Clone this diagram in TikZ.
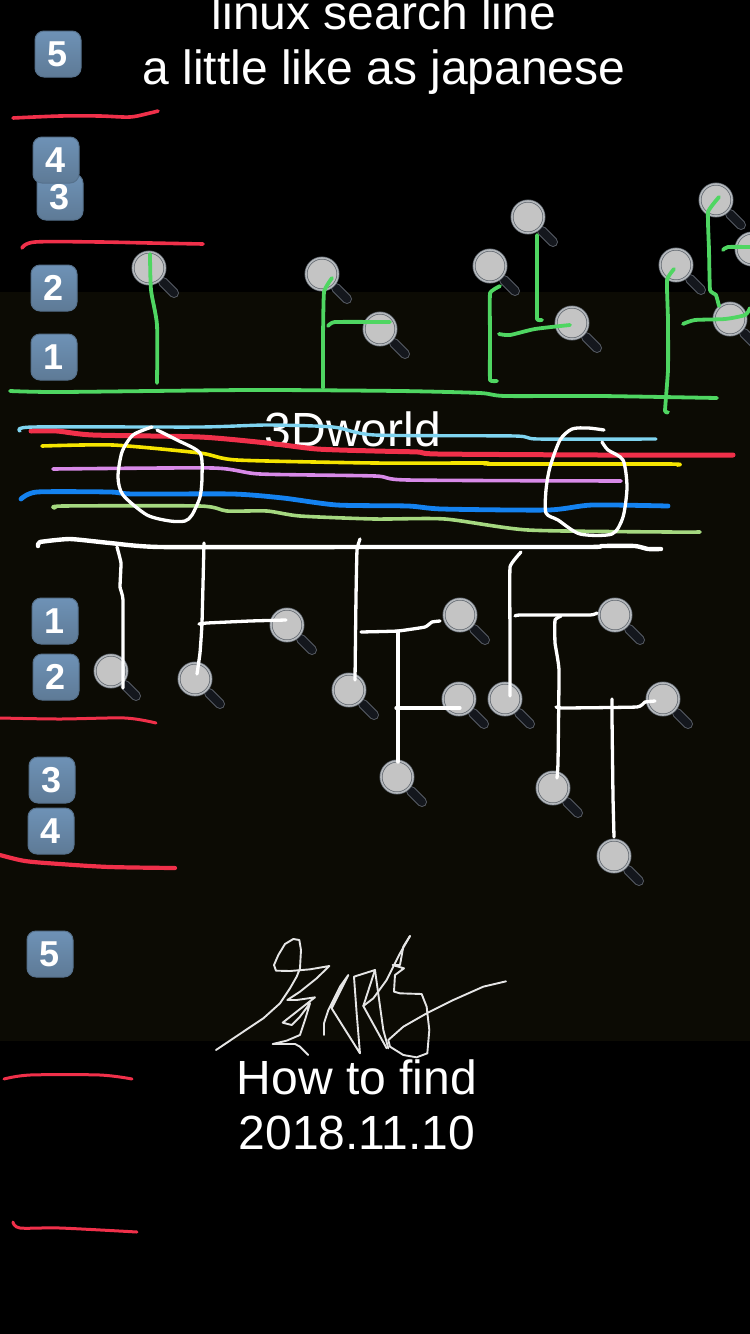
\documentclass[tikz,border=0pt]{standalone}
\usepackage{fontspec}
\setmainfont{Liberation Sans}
\definecolor{band}{HTML}{0C0B04}
\definecolor{redline}{HTML}{F0304A}
\definecolor{grnline}{HTML}{4FD662}
\definecolor{skyline}{HTML}{7FD4F0}
\definecolor{yelline}{HTML}{F5E400}
\definecolor{purline}{HTML}{D88AE8}
\definecolor{bluline}{HTML}{1482F0}
\definecolor{limline}{HTML}{A5D880}
\definecolor{capTop}{HTML}{6E92B6}
\definecolor{capBot}{HTML}{5E7A96}
\definecolor{capEdge}{HTML}{56718C}
\definecolor{lensFill}{HTML}{C4C4C4}
\definecolor{lensRing}{HTML}{5E646C}
\definecolor{lensBevel}{HTML}{B4B8BC}
\definecolor{handleCol}{HTML}{14171D}
\definecolor{handleEdge}{HTML}{565B64}
\tikzset{
  stroke/.style={line cap=round,line join=round},
  redstroke/.style={stroke,draw=redline,line width=3.6},
  grn/.style={stroke,draw=grnline,line width=3.8},
  wht/.style={stroke,draw=white,line width=3.3},
  keycap/.style={rounded corners=9pt,minimum width=46pt,minimum height=46pt,inner sep=0pt,
    top color=capTop,bottom color=capBot,draw=capEdge,line width=1pt,text=white,
    font=\fontsize{36}{36}\selectfont\bfseries},
  lens/.style={circle,minimum size=32pt,inner sep=0pt,fill=lensFill,draw=lensRing,double=lensBevel,double distance=1.6pt,line width=.7pt},
  label/.style={text=white,align=center,inner sep=0pt,font=\fontsize{48}{55}\selectfont},
  sign/.style={stroke,draw=white!90!black,line width=1.9}
}
\begin{document}
\begin{tikzpicture}[x=1pt,y=-1pt]
\useasboundingbox (0,0) rectangle (750,1334);
\clip (0,0) rectangle (750,1334);
\fill[black] (0,0) rectangle (750,1334);
\fill[band] (0,292) rectangle (750,1041);

% texts
\node[label] (title) at (384,45) {linux search line\\a little like as japanese};
\node[label] (world) at (353,429) {3Dworld};
\node[label] (how) at (357,1105) {How to find\\2018.11.10};

% keycaps
\node[keycap] (u5) at (58,54) {5};
\node[keycap] (u3) at (60,197) {3};
\node[keycap] (u4) at (56,160) {4};
\node[keycap] (u2) at (54,288) {2};
\node[keycap] (u1) at (54,357) {1};
\node[keycap] (d1) at (55,621) {1};
\node[keycap] (d2) at (56,677) {2};
\node[keycap] (d3) at (52,780) {3};
\node[keycap] (d4) at (51,831) {4};
\node[keycap] (d5) at (50,954) {5};

% magnifiers
\foreach \n/\x/\y in {ta/149/268,tb/322/274,tc/380/329,td/528/217,te/490/266,tf/572/323,tg/676/265,th/716/200,ti/752/249,tj/730/319,
  ba/111/671,bb/195/679,bc/287/625,bd/349/690,be/460/615,bf/459/699,bg/397/777,bh/505/699,bi/615/615,bj/663/699,bk/553/788,bl/614/856}{
  \draw[line cap=round,line width=10pt,draw=handleEdge] (\x+14,\y+14) -- (\x+25,\y+25);
  \draw[line cap=round,line width=8pt,draw=handleCol] (\x+14,\y+14) -- (\x+25,\y+25);
  \node[lens] (\n) at (\x,\y) {};
}

% red separators
\draw[redstroke] plot[smooth,tension=.5] coordinates {(13,118) (60,116) (100,116) (130,117) (150,113) (158,111)};
\draw[redstroke] plot[smooth,tension=.5] coordinates {(22,248) (35,242) (100,242) (150,243) (203,244)};
\draw[redstroke,line width=3] plot[smooth,tension=.5] coordinates {(0,718) (60,719) (125,718) (156,723)};
\draw[redstroke,line width=4.2] plot[smooth,tension=.5] coordinates {(0,855) (25,861) (60,864) (110,867) (175,868)};
\draw[redstroke,line width=3] plot[smooth,tension=.5] coordinates {(4,1079) (30,1075) (100,1075) (132,1079)};
\draw[redstroke,line width=3] plot[smooth,tension=.5] coordinates {(13,1222) (20,1228) (60,1228) (137,1232)};

% free ends of the green connectors
\coordinate (g1) at (157,383);
\coordinate (g2) at (323,388);
\coordinate (g3) at (328,326);
\coordinate (g4) at (497,381);
\coordinate (g5) at (542,320);
\coordinate (g6) at (499,334);
\coordinate (g7) at (668,412);
\coordinate (g8) at (683,324);
\coordinate (g9) at (723,250);
\coordinate (g10) at (750,308);

% green tree
\draw[grn] plot[smooth,tension=.4] coordinates {(10,391) (60,392) (250,390) (400,391) (480,393) (505,396) (600,396) (717,398)};
\draw[grn] plot[smooth,tension=.4] coordinates {([shift={(1,-14)}]ta.center) (151,290) (157,325) (g1)};
\draw[grn] plot[smooth,tension=.25] coordinates {([shift={(10,4)}]tb.center) (324,292) (323,340) (g2)};
\draw[grn] plot[smooth,tension=.25] coordinates {(g3) (335,322) ([shift={(10,-7)}]tc.center)};
\draw[grn] plot[smooth,tension=.15] coordinates {([shift={(10,20)}]te.center) (490,293) (490,340) (490,380) (g4)};
\draw[grn] plot[smooth,tension=.15] coordinates {([shift={(9,18)}]td.center) (537,280) (537,319) (g5)};
\draw[grn] plot[smooth,tension=.4] coordinates {(g6) (510,335) (535,329) ([shift={(-2,2)}]tf.center)};
\draw[grn] plot[smooth,tension=.25] coordinates {([shift={(-2,4)}]tg.center) (667,280) (668,320) (668,370) (665,411) (g7)};
\draw[grn] plot[smooth,tension=.2] coordinates {([shift={(3,-3)}]th.center) (708,212) (709,250) (710,290) (716,295) (719,306)};
\draw[grn] plot[smooth,tension=.4] coordinates {(g8) (695,320) (725,319) (745,315) (g10)};
\draw[grn] plot[smooth,tension=.4] coordinates {(g9) (728,247) ([shift={(-2,-2)}]ti.center)};

% coloured lines
\draw[stroke,draw=redline,line width=5] plot[smooth,tension=.4] coordinates {(31,431) (57,431) (93,435) (200,437) (267,443) (317,449) (375,451) (418,452) (438,454) (600,455) (733,455)};
\draw[stroke,draw=skyline,line width=3.4] plot[smooth,tension=.4] coordinates {(20,431) (33,427) (200,427) (267,425) (333,427) (375,435) (515,436) (538,439) (656,439)};
\draw[stroke,draw=yelline,line width=3.6] plot[smooth,tension=.4] coordinates {(42,446) (113,445) (200,453) (237,460) (375,463) (485,463) (492,464) (668,464) (677,465)};
\draw[stroke,draw=purline,line width=3.6] plot[smooth,tension=.4] coordinates {(53,469) (213,468) (260,474) (375,476) (408,480) (621,481)};
\draw[stroke,draw=bluline,line width=4.8] plot[smooth,tension=.4] coordinates {(21,499) (37,492) (110,492) (133,494) (233,494) (283,498) (337,505) (408,506) (442,509) (548,510) (592,505) (668,506)};
\draw[stroke,draw=limline,line width=3.6] plot[smooth,tension=.4] coordinates {(55,508) (63,506) (200,506) (227,511) (267,511) (300,516) (375,519) (445,519) (528,530) (668,532) (700,532)};

% white rings
\draw[wht] plot[smooth,tension=.45] coordinates {(157,430) (177,440) (200,453) (202,477) (200,497) (192,515) (185,521) (170,521) (147,515) (123,495) (118,477) (122,452) (133,435) (152,427)};
\draw[wht] plot[smooth,tension=.45] coordinates {(604,430) (588,428) (572,429) (560,440) (550,467) (546,490) (546,513) (558,520) (580,534) (612,534) (623,517) (627,487) (623,460) (608,450) (602,442)};

% free ends of the white connectors
\coordinate (w1) at (117,547);
\coordinate (w2) at (123,688);
\coordinate (w3) at (204,543);
\coordinate (w4) at (199,624);
\coordinate (w5) at (360,539);
\coordinate (w6) at (361,632);
\coordinate (w7) at (398,631);
\coordinate (w8) at (396,708);
\coordinate (w9) at (521,552);
\coordinate (w10) at (515,616);
\coordinate (w11) at (561,616);
\coordinate (w12) at (556,707);
\coordinate (w13) at (612,699);

% white tree
\draw[wht,line width=4.4] plot[smooth,tension=.3] coordinates {(38,546) (40,542) (70,539) (110,543) (160,547) (375,547) (588,547) (602,546) (635,546) (648,549) (661,549)};
\draw[wht] plot[smooth,tension=.2] coordinates {(w1) (121,563) (120,587) (123,600) (w2)};
\draw[wht] plot[smooth,tension=.2] coordinates {(w3) (202,623) (200,653) ([shift={(2,-5)}]bb.center)};
\draw[wht] plot[smooth,tension=.2] coordinates {(w4) (207,623) (250,621) ([shift={(-1,-5)}]bc.center)};
\draw[wht] plot[smooth,tension=.2] coordinates {(w5) (357,550) (356,597) ([shift={(6,-10)}]bd.center)};
\draw[wht] plot[smooth,tension=.2] coordinates {(w6) (398,631) (425,627) (432,622) ([shift={(-20,6)}]be.center)};
\draw[wht] (w7) -- ([shift={(1,-15)}]bg.center);
\draw[wht] plot[smooth,tension=.2] coordinates {(w8) (407,708) ([shift={(1,9)}]bf.center)};
\draw[wht] plot[smooth,tension=.15] coordinates {(w9) (510,567) (510,640) ([shift={(5,-3)}]bh.center)};
\draw[wht] plot[smooth,tension=.2] coordinates {(w10) (520,615) (590,615) ([shift={(-18,-2)}]bi.center)};
\draw[wht] plot[smooth,tension=.2] coordinates {(w11) (555,620) (555,643) (559,670) (558,763) ([shift={(4,-10)}]bk.center)};
\draw[wht] plot[smooth,tension=.2] coordinates {(w12) (563,708) (637,707) (645,702) ([shift={(-8,2)}]bj.center)};
\draw[wht] plot[smooth,tension=.15] coordinates {(w13) (612,717) (613,797) ([shift={(0,-19)}]bl.center)};

% signature
\begin{scope}[shift={(200,920)},scale=0.3333]
\draw[sign] plot coordinates {(48,390) (130,335) (190,295) (240,250) (270,205) (290,170) (300,145) (303,90) (298,60) (280,57) (255,72) (235,105) (222,135) (228,152) (270,153) (330,148) (388,138) (350,175) (300,215) (262,240) (290,240) (345,232) (290,275) (248,308) (275,315) (300,290) (330,250) (315,300) (300,345) (260,362) (218,372) (250,372) (285,372) (300,380) (325,405)};
\draw[sign] plot coordinates {(372,345) (372,310) (385,270) (420,200) (445,165) (395,265) (480,400) (470,280) (462,170) (525,150) (490,258) (560,385)};
\draw[sign] plot coordinates {(525,150) (550,330) (565,385)};
\draw[sign] plot coordinates {(630,48) (600,100) (560,180) (520,235) (490,258)};
\draw[sign] plot coordinates {(630,48) (610,80) (600,135) (578,135) (612,145) (585,165) (582,215) (600,220) (665,222) (680,260) (688,330) (682,400) (650,412) (610,405) (570,380) (565,360) (610,320) (680,280) (760,240) (850,200) (918,184)};
\end{scope}
\end{tikzpicture}
\end{document}
